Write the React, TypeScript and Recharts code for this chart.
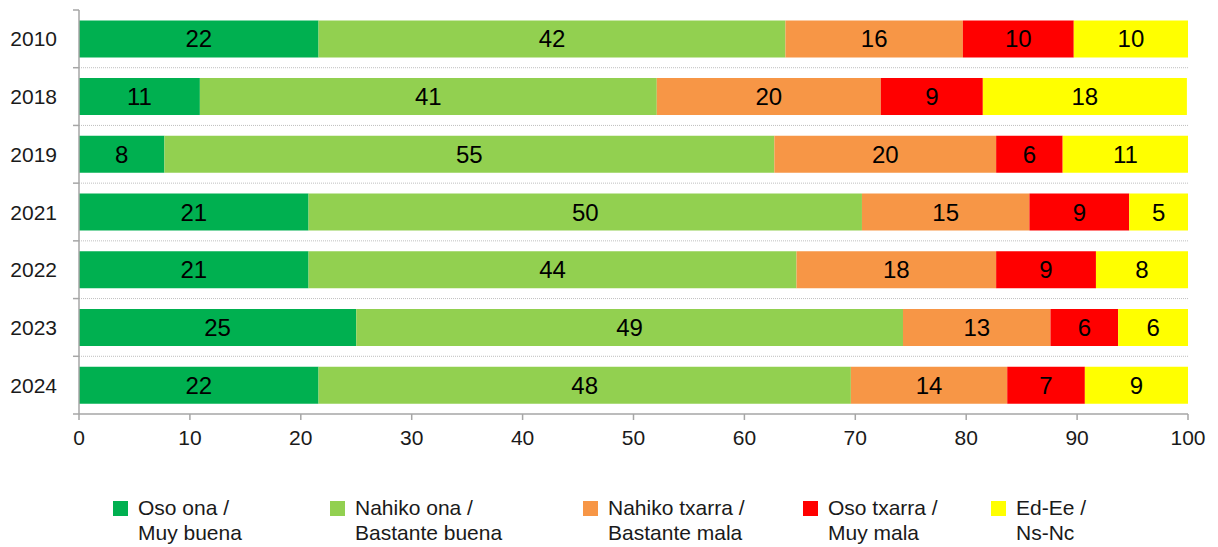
import React from 'react';
import { BarChart, Bar, XAxis, YAxis, CartesianGrid, Legend, LabelList } from 'recharts';

const years = ['2010', '2018', '2019', '2021', '2022', '2023', '2024'];
const osoOna = [21.6, 10.9, 7.7, 20.7, 20.7, 25.0, 21.6];
const nahikoOna = [42.1, 41.2, 55.0, 49.9, 44.0, 49.3, 48.0];
const nahikoTxarra = [16.0, 20.2, 20.0, 15.1, 18.0, 13.3, 14.1];
const osoTxarra = [10.0, 9.2, 6.0, 9.0, 9.0, 6.1, 7.0];
const edEe = [10.3, 18.4, 11.3, 5.3, 8.3, 6.3, 9.3];
const xTicks = [0, 10, 20, 30, 40, 50, 60, 70, 80, 90, 100];

const seriesDefs = [
  { key: 'osoOna', values: osoOna, color: '#00B050', line1: 'Oso ona /', line2: 'Muy buena' },
  { key: 'nahikoOna', values: nahikoOna, color: '#92D050', line1: 'Nahiko ona /', line2: 'Bastante buena' },
  { key: 'nahikoTxarra', values: nahikoTxarra, color: '#F79646', line1: 'Nahiko txarra /', line2: 'Bastante mala' },
  { key: 'osoTxarra', values: osoTxarra, color: '#FF0000', line1: 'Oso txarra /', line2: 'Muy mala' },
  { key: 'edEe', values: edEe, color: '#FFFF00', line1: 'Ed-Ee /', line2: 'Ns-Nc' },
];

const data = years.map((y, i) => {
  const row: Record<string, any> = { year: y };
  seriesDefs.forEach((s) => {
    row[s.key] = s.values[i];
  });
  return row;
});

const W = 1218;
const H = 547;
const M = { top: 10, right: 30, left: 0, bottom: 43 };
const FONT = '"Liberation Sans", Arial, sans-serif';
const AXIS = '#A6A6A6';
const TEXT = '#1a1a1a';
const PLOT_H = 404;
const BAND = PLOT_H / years.length;
const legendLeft = [113, 330, 583, 803, 991];

const YTick = (props: any) => {
  const { x, y, payload, index } = props;
  const axisX = x + 22;
  return (
    <g>
      <line x1={axisX - 6} x2={axisX} y1={y - BAND / 2} y2={y - BAND / 2} stroke={AXIS} strokeWidth={1.5} />
      {index === years.length - 1 && (
        <line x1={axisX - 6} x2={axisX} y1={y + BAND / 2} y2={y + BAND / 2} stroke={AXIS} strokeWidth={1.5} />
      )}
      <text x={x} y={y} textAnchor="end" dominantBaseline="central" fill={TEXT} fontSize={21} fontFamily={FONT}>
        {payload.value}
      </text>
    </g>
  );
};

const LegendContent = () => (
  <div style={{ position: 'relative', width: W, height: 60, fontFamily: FONT, fontSize: 21, color: TEXT }}>
    {seriesDefs.map((s, i) => (
      <div key={s.key} style={{ position: 'absolute', left: legendLeft[i], top: 0 }}>
        <div style={{ position: 'absolute', left: 0, top: 14, width: 15, height: 15, background: s.color }} />
        <div style={{ position: 'absolute', left: 25, top: 8, lineHeight: '25px', whiteSpace: 'nowrap' }}>
          <div>{s.line1}</div>
          <div>{s.line2}</div>
        </div>
      </div>
    ))}
  </div>
);

export default function App() {
  return (
    <div style={{ position: 'absolute', left: 0, top: 0, width: W, height: H, background: '#fff' }}>
      <BarChart width={W} height={H} data={data} layout="vertical" margin={M} barCategoryGap="18%">
        <CartesianGrid
          vertical={false}
          stroke="#BFBFBF"
          strokeDasharray="1 1"
          horizontalCoordinatesGenerator={({ offset }: any) =>
            years.slice(1).map((_, i) => offset.top + ((i + 1) * offset.height) / years.length)
          }
        />
        <XAxis
          type="number"
          domain={[0, 100]}
          ticks={xTicks}
          interval={0}
          stroke={AXIS}
          strokeWidth={1.5}
          tickSize={6}
          tickMargin={10}
          tick={{ fill: TEXT, fontSize: 21, fontFamily: FONT }}
          height={30}
        />
        <YAxis
          type="category"
          dataKey="year"
          width={79}
          stroke={AXIS}
          strokeWidth={1.5}
          tickLine={false}
          tickSize={6}
          tickMargin={16}
          tick={<YTick />}
        />
        <Legend height={60} content={<LegendContent />} wrapperStyle={{ top: 487, left: 0, bottom: 'auto', width: W }} />
        {seriesDefs.map((s) => (
          <Bar key={s.key} dataKey={s.key} stackId="a" fill={s.color} isAnimationActive={false}>
            <LabelList
              dataKey={s.key}
              position="center"
              fill="#000"
              fontSize={24}
              fontFamily={FONT}
              formatter={(v: any) => Math.round(Number(v))}
            />
          </Bar>
        ))}
      </BarChart>
    </div>
  );
}
